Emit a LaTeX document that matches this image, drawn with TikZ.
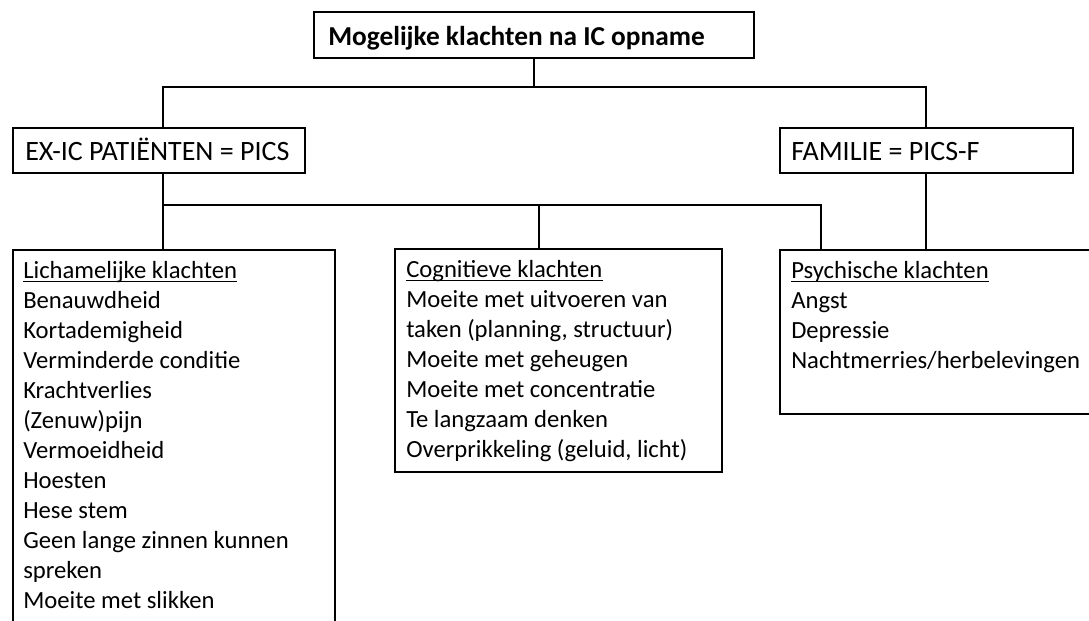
\documentclass[tikz,border=0pt]{standalone}
\usepackage{fontspec}
\setmainfont{Carlito}
\tikzset{
  boxshape/.style={draw=black, line width=1.5pt, rectangle, inner sep=0pt, anchor=north west},
  conn/.style={draw=black, line width=1.5pt},
  head/.style={inner sep=0pt, anchor=base west, font=\fontsize{21}{24}\selectfont},
  title/.style={inner sep=0pt, anchor=base west, font=\fontsize{20.5}{24}\selectfont\bfseries},
  body/.style={inner sep=0pt, anchor=base west, font=\fontsize{18.5}{22.5}\selectfont},
  uline/.style={draw=black, line width=1.2pt}
}
\newcommand\mkbox[5]{\node[boxshape, minimum width=#4*0.75pt, minimum height=#5*0.75pt] (#1) at (#2,#3) {};}
\begin{document}
\begin{tikzpicture}[x=0.75pt,y=-0.75pt]
\useasboundingbox (0,0) rectangle (1089,621);
\clip (0,0) rectangle (1089,621);
\fill[white] (0,0) rectangle (1089,621);
% boxes
\mkbox{titlebox}{313}{11}{440}{46}
\mkbox{pics}{12}{127}{292}{45}
\mkbox{fam}{779}{127}{293}{45}
\mkbox{lich}{12}{249}{322}{401}
\mkbox{cog}{394}{248}{327}{223}
\mkbox{psy}{779}{249}{340}{164}
% texts
\node[title] (ttl) at (328,45) {Mogelijke klachten na IC opname};
\node[head] (picst) at (25,160) {EX-IC PATIËNTEN = PICS};
\node[head] (famt) at (791,160) {FAMILIE = PICS-F};
% lichamelijke
\foreach \t [count=\i from 0] in {Lichamelijke klachten, Benauwdheid, Kortademigheid, Verminderde conditie, Krachtverlies, (Zenuw)pijn, Vermoeidheid, Hoesten, Hese stem, Geen lange zinnen kunnen, spreken, Moeite met slikken}
  \node[body] (lt\i) at (23,278+30*\i) {\t};
% cognitief
\foreach \t [count=\i from 0] in {Cognitieve klachten, Moeite met uitvoeren van, {taken (planning, structuur)}, Moeite met geheugen, Moeite met concentratie, Te langzaam denken, {Overprikkeling (geluid, licht)}}
  \node[body] (ct\i) at (406,277+30*\i) {\t};
% psychisch
\foreach \t [count=\i from 0] in {Psychische klachten, Angst, Depressie, Nachtmerries/herbelevingen}
  \node[body] (pt\i) at (791,278+30*\i) {\t};
% underlines
\draw[uline] ([yshift=-2.6pt]lt0.base west) -- ([yshift=-2.6pt]lt0.base east);
\draw[uline] ([yshift=-2.6pt]ct0.base west) -- ([yshift=-2.6pt]ct0.base east);
\draw[uline] ([yshift=-2.6pt]pt0.base west) -- ([yshift=-2.6pt]pt0.base east);
% connectors
\coordinate (pL) at (163,87);
\coordinate (pR) at (926,87);
\coordinate (qL) at (163,205);
\coordinate (qM) at (539,205);
\coordinate (qR) at (821,205);
\draw[conn] (titlebox.south) -- (titlebox.south |- pL);
\draw[conn] (pL |- pics.north) -- (pL) -- (pR) -- (pR |- fam.north);
\draw[conn] (pL |- pics.south) -- (pL |- lich.north);
\draw[conn] (qL) -- (qR) -- (qR |- psy.north);
\draw[conn] (qM) -- (qM |- cog.north);
\draw[conn] (pR |- fam.south) -- (pR |- psy.north);
\end{tikzpicture}
\end{document}
